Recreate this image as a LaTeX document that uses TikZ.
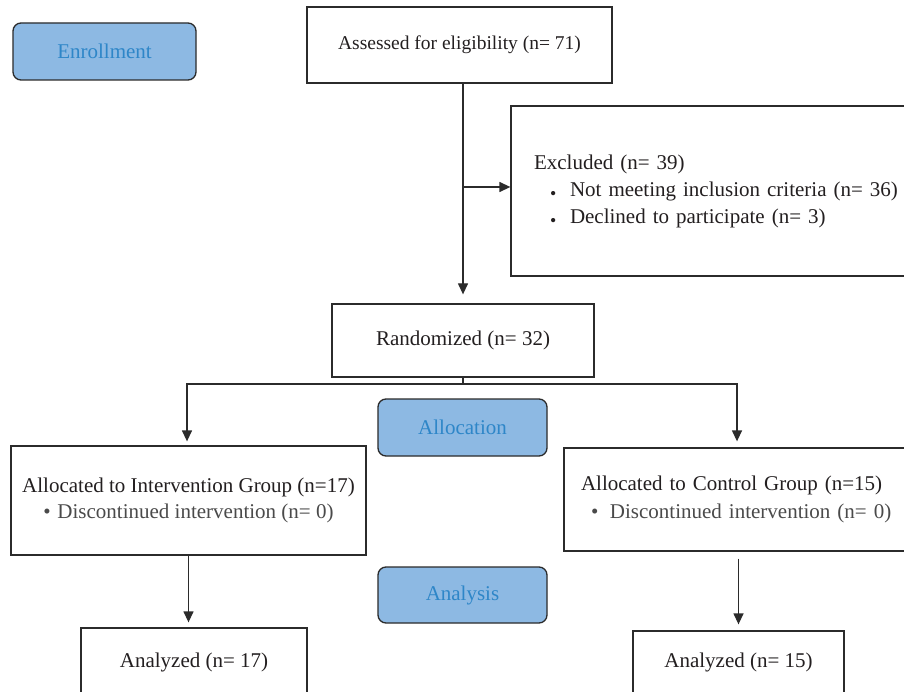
\documentclass[tikz,border=0pt]{standalone}
\usepackage{fontspec}
\setmainfont{Liberation Serif}
\usetikzlibrary{arrows.meta}
\definecolor{boxline}{HTML}{2B2B2B}
\definecolor{txt}{HTML}{231F20}
\definecolor{subtxt}{HTML}{4A4A4A}
\definecolor{phasefill}{HTML}{8DB9E3}
\definecolor{phasetext}{HTML}{2E86C8}
\newcommand{\lowbullet}{\raisebox{-3pt}{\scalebox{0.85}{\textbullet}}}
\begin{document}
\begin{tikzpicture}[x={(1pt,0)}, y={(0,-1pt)},
  box/.style={draw=boxline, line width=1.3pt, fill=white, inner sep=0pt,
    text=txt, align=center, font=\fontsize{21}{27}\selectfont},
  phase/.style={box, rounded corners=8pt, fill=phasefill, text=phasetext},
  arr/.style={draw=boxline, line width=1.3pt, -{Triangle[length=11pt,width=10pt]}},
  link/.style={draw=boxline, line width=1.3pt}]
\clip (0,0) rectangle (904,692);
\fill[white] (0,0) rectangle (904,692);

\node[phase, minimum width=183pt, minimum height=57pt] (enroll) at (104.5,51.5) {Enrollment};
\node[box, minimum width=305pt, minimum height=76pt, font=\fontsize{19.5}{25}\selectfont] (assess) at (459.5,45) {Assessed for eligibility (n= 71)};
\node[box, align=left, text width=400pt, inner xsep=23pt, minimum height=170pt] (excl) at (734,191)
  {Excluded (n= 39)\\
   \hspace*{16pt}\makebox[20pt][l]{\lowbullet}Not meeting inclusion criteria (n= 36)\\
   \hspace*{16pt}\makebox[20pt][l]{\lowbullet}Declined to participate (n= 3)};
\node[box, minimum width=262pt, minimum height=73pt] (rand) at (463,340.5) {Randomized (n= 32)};
\node[phase, minimum width=169pt, minimum height=57pt] (alloc) at (462.5,427.5) {Allocation};
\node[box, minimum width=355pt, minimum height=109pt, font=\fontsize{21}{26}\selectfont] (interv) at (188.5,500.5)
  {Allocated to Intervention Group (n=17)\\
   {\color{subtxt}\makebox[14pt][l]{\textbullet}Discontinued intervention (n= 0)}};
\node[box, align=left, text width=330pt, inner xsep=17pt, minimum height=103pt, font=\fontsize{21}{28}\selectfont] (ctrl) at (746,499.5)
  {Allocated to Control Group (n=15)\\
   {\color{subtxt}\hspace*{10pt}\makebox[19pt][l]{\textbullet}Discontinued intervention (n= 0)}};
\node[phase, minimum width=169pt, minimum height=56pt] (analysis) at (462.5,595) {Analysis};
\node[box, minimum width=226pt, minimum height=68pt] (anL) at (194,662) {Analyzed (n= 17)};
\node[box, minimum width=211pt, minimum height=62pt] (anR) at (738.5,662) {Analyzed (n= 15)};

\coordinate (split) at (463,384);
\coordinate (exclin) at ([yshift=4pt]excl.west);
\coordinate (ctrlin) at ([xshift=-9pt]ctrl.north);
\coordinate (intin) at ([xshift=-1.5pt]interv.north);

\draw[arr, shorten >=9pt] (assess.south -| rand.north) -- (rand.north);
\draw[arr] (rand.north |- exclin) -- (exclin);
\draw[link] (rand.south) -- (split);
\draw[arr, shorten >=4pt] (split) -| (intin);
\draw[arr, shorten >=6pt] (split) -| (ctrlin);
\draw[arr, shorten >=5pt] (interv.south) -- (interv.south |- anL.north);
\draw[arr, shorten <=7pt, shorten >=6pt] (anR.north |- ctrl.south) -- (anR.north);
\end{tikzpicture}
\end{document}
